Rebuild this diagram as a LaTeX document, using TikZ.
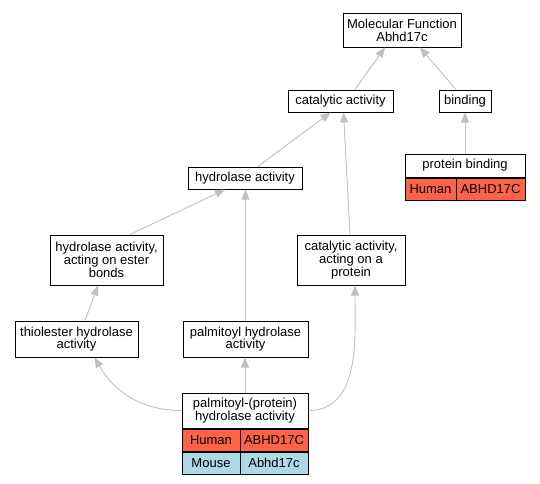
\documentclass[tikz,border=0pt]{standalone}
\usepackage{fontspec}
\setmainfont{Liberation Sans}
\usetikzlibrary{
  arrows.meta,
}
\definecolor{human}{RGB}{255,99,71}
\definecolor{mouse}{RGB}{173,216,230}
\definecolor{linkgray}{RGB}{192,192,192}

\begin{document}
\begin{tikzpicture}[
  x=1pt, y=-1pt,
  term/.style={draw, line width=1pt, fill=white, align=center, inner sep=0pt,
    font=\fontsize{13}{12.7}\selectfont},
  gene/.style={term, fill=human, minimum height=22},
  isa/.style={draw=linkgray, line width=0.9pt, -{Triangle[length=10pt,width=8pt]}},
]
\useasboundingbox (0,0) rectangle (540,483);
\node[term, minimum width=118, minimum height=34] (mf) at (402,30) {Molecular Function\\Abhd17c};
\node[term, minimum width=105, minimum height=22] (cat) at (340.5,101) {catalytic activity};
\node[term, minimum width=52, minimum height=22] (bind) at (465,101) {binding};
\node[term, minimum width=120, minimum height=23] (pbind) at (465,165.5) {protein binding};
\node[gene, minimum width=51, anchor=north west] (pbindhs) at (pbind.south west) {Human};
\node[gene, minimum width=69, anchor=north east] (pbindsym) at (pbind.south east) {ABHD17C};
\node[term, minimum width=114, minimum height=22] (hyd) at (245,178) {hydrolase activity};
\node[term, minimum width=113, minimum height=50] (ester) at (106.5,260) {hydrolase activity,\\acting on ester\\bonds};
\node[term, minimum width=108, minimum height=50] (prot) at (351,260) {catalytic activity,\\acting on a\\protein};
\node[term, minimum width=123, minimum height=36] (thio) at (76.5,339) {thiolester hydrolase\\activity};
\node[term, minimum width=125, minimum height=36] (palm) at (245.5,339) {palmitoyl hydrolase\\activity};
\node[term, minimum width=126, minimum height=35] (ppa) at (245,410.5) {palmitoyl-(protein)\\hydrolase activity};
\node[gene, minimum width=58, anchor=north west] (ppahs) at (ppa.south west) {Human};
\node[gene, minimum width=68, anchor=north east] (ppahsym) at (ppa.south east) {ABHD17C};
\node[gene, fill=mouse, minimum width=58, anchor=north west] (ppamm) at (ppahs.south west) {Mouse};
\node[gene, fill=mouse, minimum width=68, anchor=north east] (ppammsym) at (ppahsym.south east) {Abhd17c};
% is_a links, child to parent
\draw[isa] ([xshift=14.5]cat.north) -- ([xshift=-17]mf.south);
\draw[isa] ([xshift=-9]bind.north) -- ([xshift=18]mf.south);
\draw[isa] (pbind.north) -- (bind.south);
\draw[isa] ([xshift=13]hyd.north) -- ([xshift=-10]cat.south);
\draw[isa] ([xshift=-1]prot.north) -- ([xshift=3]cat.south);
\draw[isa] ([xshift=23.5]ester.north) -- ([xshift=-20]hyd.south);
\draw[isa] (palm.north) -- (palm.north |- hyd.south);
\draw[isa] ([xshift=8.5]thio.north) -- ([xshift=-8.5]ester.south);
\draw[isa] (ppa.north) -- (ppa.north |- palm.south);
\draw[isa] (ppa.west) to[out=180, in=-60] ([xshift=18]thio.south);
\draw[isa] (ppa.east) to[out=0, in=-90] ([xshift=4]prot.south);
\end{tikzpicture}
\end{document}
